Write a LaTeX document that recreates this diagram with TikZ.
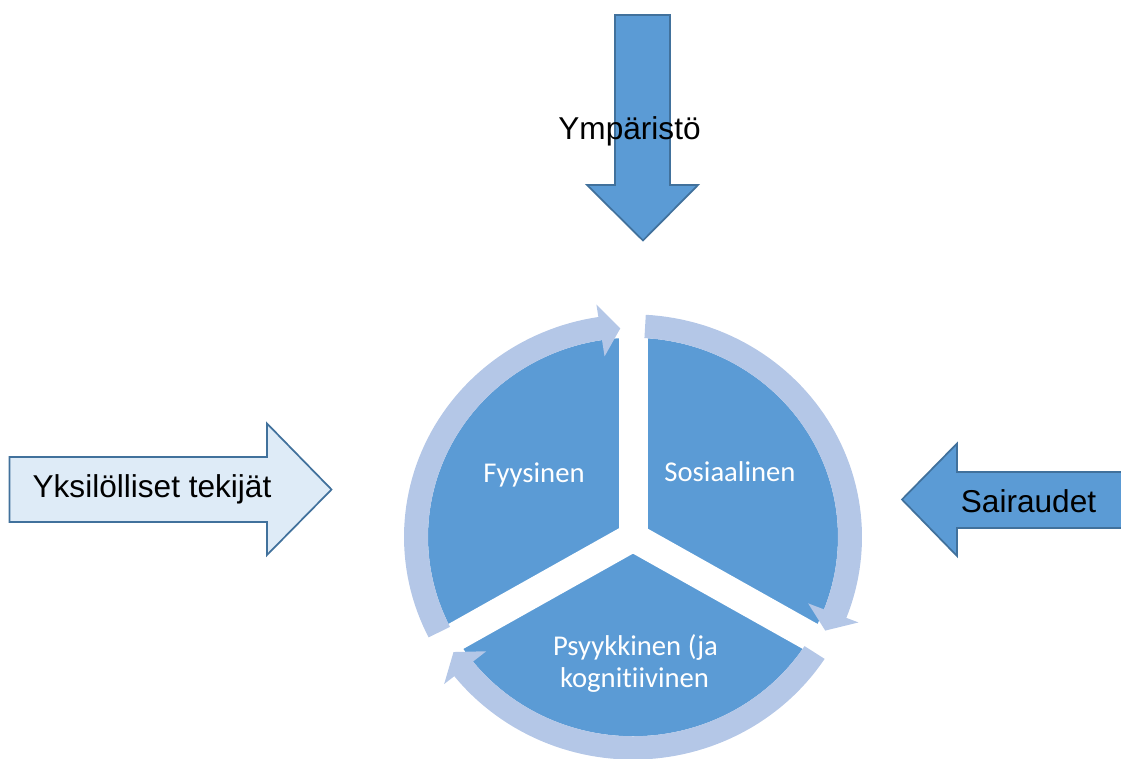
\documentclass[tikz,border=0pt]{standalone}
\usepackage{fontspec}
\setmainfont{Liberation Sans}
\newfontfamily\calibrifont[Ligatures=NoCommon]{Carlito}
\definecolor{secblue}{HTML}{5B9BD5}
\definecolor{ringblue}{HTML}{B4C7E7}
\definecolor{edgeblue}{HTML}{41719C}
\definecolor{paleblue}{HTML}{DEEBF7}
\begin{document}
\begin{tikzpicture}[x=0.75pt,y=-0.75pt,
  bigarrow/.style={draw=edgeblue, line width=1.3pt, line join=miter},
  lbl/.style={font=\fontsize{23.7pt}{28pt}\selectfont, text=black, inner sep=0pt, anchor=base},
  seclbl/.style={font=\calibrifont\fontsize{21.5pt}{26pt}\selectfont, text=white, inner sep=0pt, anchor=base},
  ring/.style={fill=ringblue}]
\useasboundingbox (0,0) rectangle (1121,758);
% top arrow
\draw[bigarrow, fill=secblue] (615,15) -- (670,15) -- (670,185) -- (698,185) -- (643,240.5) -- (587,185) -- (615,185) -- cycle;
\node[lbl] (ymp) at (629.5,139.5) {Ympäristö};
% left arrow
\draw[bigarrow, fill=paleblue] (9.5,457) -- (267,457) -- (267,423.5) -- (331.5,489.5) -- (267,555) -- (267,522) -- (9.5,522) -- cycle;
\node[lbl] (yks) at (152,497) {Yksilölliset tekijät};
% right arrow
\draw[bigarrow, fill=secblue] (1126,472) -- (957,472) -- (957,443.5) -- (902,499.5) -- (957,556) -- (957,528) -- (1126,528) -- cycle;
\node[lbl] (sai) at (1028.5,512.5) {Sairaudet};
% cycle diagram
\begin{scope}[shift={(633,537)}, yscale=-0.972]
  \fill[secblue] plot[domain=0:360, samples=180] (\x:205) -- cycle;
  \foreach \a in {90,210,330} \draw[white, line width=21.75pt] (0,0) -- (\a:215);
  \fill[ring] plot[domain=206.8:98.7, samples=60] (\x:229) -- (98.7:242) -- (93.4:215) -- (98.7:188)
     -- plot[domain=98.7:206.8, samples=60] (\x:205) -- cycle;
  \fill[ring] plot[domain=86.8:-21.3, samples=60] (\x:229) -- (-21.3:242) -- (-26.6:215) -- (-21.3:188)
     -- plot[domain=-21.3:86.8, samples=60] (\x:205) -- cycle;
  \fill[ring] plot[domain=-33.2:-141.3, samples=60] (\x:229) -- (-141.3:242) -- (-146.6:215) -- (-141.3:188)
     -- plot[domain=-141.3:-33.2, samples=60] (\x:205) -- cycle;
\end{scope}
\node[seclbl] (fyy) at (534,482.5) {Fyysinen};
\node[seclbl] (sos) at (730,481.5) {Sosiaalinen};
\node[seclbl] (psy1) at (635.5,655.5) {Psyykkinen (ja};
\node[seclbl] (psy2) at (634.5,687) {kognitiivinen};
\end{tikzpicture}
\end{document}
